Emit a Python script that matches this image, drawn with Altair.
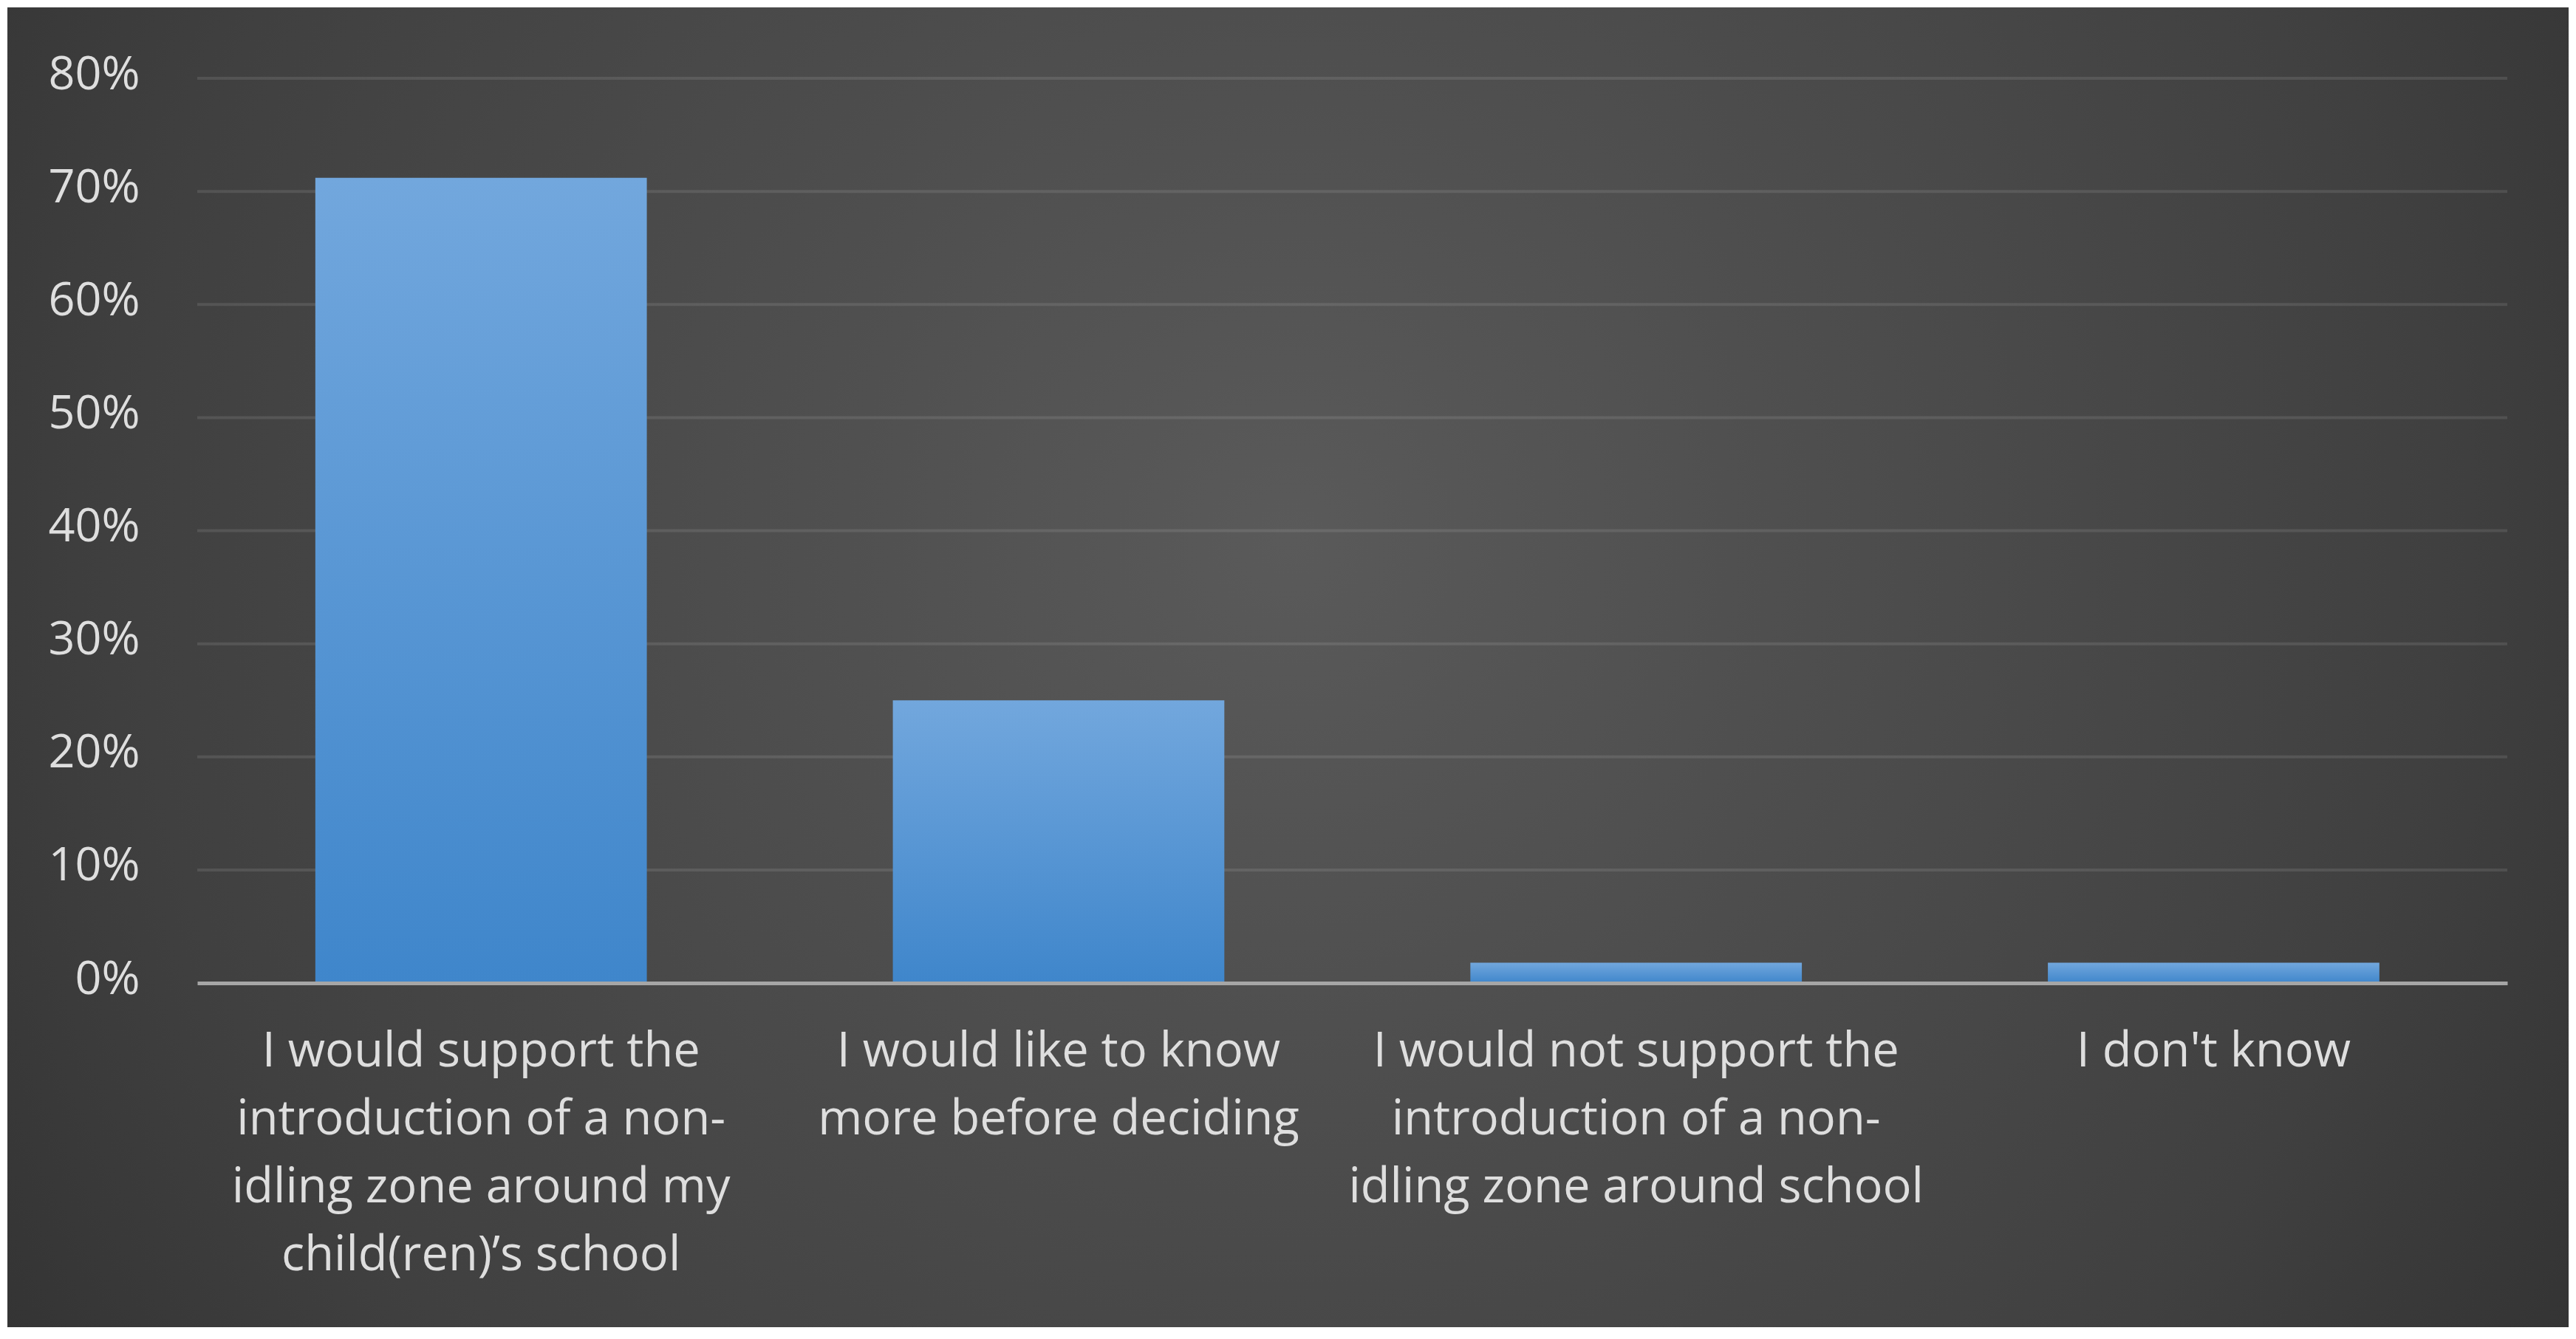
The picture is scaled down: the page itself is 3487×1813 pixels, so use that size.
import altair as alt
import pandas as pd

# ---- data ----
categories = [
    "I would support the|introduction of a non-|idling zone around my|child(ren)\u2019s school",
    "I would like to know|more before deciding",
    "I would not support the|introduction of a non-|idling zone around school",
    "I don't know",
]
values = [71.2, 25.0, 1.8, 1.8]
tick_values = [0, 10, 20, 30, 40, 50, 60, 70, 80]
grid_values = [10, 20, 30, 40, 50, 60, 70, 80]

W, H = 3127, 1225
FONT = "Open Sans"
TEXT = "#dedede"

bars_df = pd.DataFrame({"category": categories, "pct": values})
grid_df = pd.DataFrame({"pct": grid_values})
bg_df = pd.DataFrame({"a": [0]})

y_scale = alt.Scale(domain=[0, 80], nice=False, zero=True)
y_axis = alt.Axis(
    values=tick_values,
    labelExpr="datum.value + '%'",
    title=None,
    grid=False,
    domain=False,
    ticks=False,
    tickSize=0,
    labelFont=FONT,
    labelFontSize=63,
    labelColor=TEXT,
    labelPadding=78,
    labelOffset=-5,
    zindex=1,
)
x_axis = alt.Axis(
    title=None,
    labelAngle=0,
    labelExpr="split(datum.label, '|')",
    labelFont=FONT,
    labelFontSize=65,
    labelLineHeight=92,
    labelColor=TEXT,
    labelPadding=61,
    labelLimit=3000,
    labelOverlap=False,
    labelAlign="center",
    labelBaseline="top",
    ticks=False,
    tickSize=0,
    domain=True,
    domainColor="#a6a6a6",
    domainWidth=5,
    grid=False,
    zindex=1,
)

bg_grad = alt.RadialGradient(
    gradient="radial",
    stops=[
        alt.GradientStop(color="#5a5a5a", offset=0),
        alt.GradientStop(color="#404040", offset=0.6),
        alt.GradientStop(color="#262626", offset=1),
    ],
    x1=0.5, y1=0.45, r1=0,
    x2=0.5, y2=0.45, r2=0.75,
)

background = alt.Chart(bg_df).mark_rect(fill=bg_grad).encode(
    x=alt.value(-257), x2=alt.value(W + 83),
    y=alt.value(-96), y2=alt.value(1691),
)

grid = alt.Chart(grid_df).mark_rule(color="#ffffff", opacity=0.1, strokeWidth=4).encode(
    y=alt.Y("pct:Q", scale=y_scale, axis=y_axis),
)

bar_grad = alt.LinearGradient(
    gradient="linear",
    stops=[
        alt.GradientStop(color="#72a7dd", offset=0),
        alt.GradientStop(color="#3f86cb", offset=1),
    ],
    x1=0, x2=0, y1=0, y2=1,
)

bars = alt.Chart(bars_df).mark_bar(fill=bar_grad, stroke="#2a2622", strokeWidth=0).encode(
    x=alt.X("category:N", sort=categories, axis=x_axis,
            scale=alt.Scale(paddingInner=0.426, paddingOuter=0.213, align=0.48)),
    y=alt.Y("pct:Q", scale=y_scale, axis=y_axis),
)

chart = alt.layer(background, grid, bars).properties(
    width=W, height=H,
    padding={"left": 2, "top": 2, "right": 0, "bottom": 0},
).configure_view(stroke=None).configure(background="#ffffff")

chart.save("out.html", embed_options={"renderer": "svg", "actions": False})
